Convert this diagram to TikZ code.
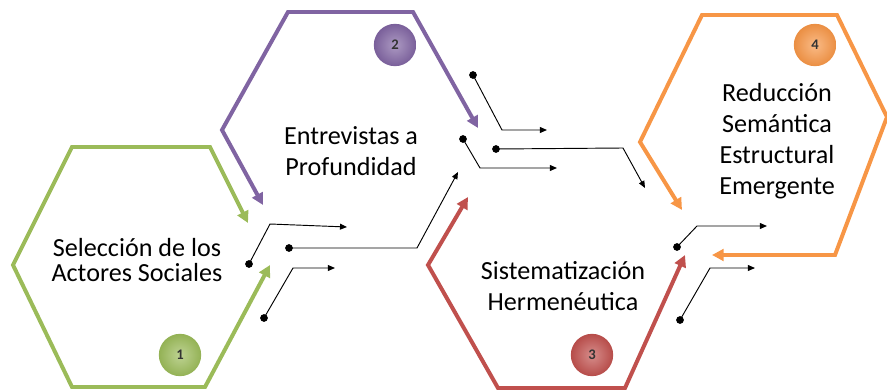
\documentclass[tikz,border=0pt]{standalone}
\usepackage{fontspec}
\setmainfont{Carlito}
\usetikzlibrary{arrows.meta}

\definecolor{hexgreen}{RGB}{155,187,89}
\definecolor{hexpurple}{RGB}{128,100,162}
\definecolor{hexred}{RGB}{192,80,77}
\definecolor{hexorange}{RGB}{247,150,70}

\begin{document}
\begin{tikzpicture}[x=0.03cm, y=-0.03cm,
  hexline/.style={line width=3.4pt,
    {Triangle[length=10pt,width=10pt]}-{Triangle[length=10pt,width=10pt]}},
  link/.style={line width=0.8pt, -{Triangle[length=6pt,width=5pt]}},
  stepball/.style={circle, minimum size=1.27cm, inner sep=0pt, shading=radial,
    inner color=#1!65!white, outer color=#1!95!black,
    text=black!80, font=\fontsize{12.5}{13}\selectfont\bfseries},
  phase/.style={align=center, font=\fontsize{22.3}{#1}\selectfont},
  phase/.default=26.4pt]
  \useasboundingbox (0,0) rectangle (887,391);

  % Hexagons
  \draw[hexline, hexgreen] (248,223) -- (210,147) -- (72,147) -- (13,265) -- (72,387) -- (205,387) -- (270,265);
  \draw[hexline, hexpurple] (478,128) -- (413,12) -- (288,12) -- (222,130) -- (263,205);
  \draw[hexline, hexred] (468,197) -- (428,265) -- (498,388) -- (625,388) -- (685,255);
  \draw[hexline, hexorange] (682,210) -- (640,142) -- (702,15) -- (837,15) -- (887,117) -- (835,255) -- (712,255);

  % Links between the steps
  \foreach \xa/\ya/\xb/\yb/\xc/\yc in {249/264/270/224/347/227, 289/248/417/248/458/172,
      264/318/293/268/335/268, 473/75/502/130/547/130, 463/139/480/168/557/168,
      496/149/623/148/645/188, 677/247/697/226/767/226, 680/320/710/268/755/268}
  {
    \fill (\xa,\ya) circle[radius=3.3pt];
    \draw[link] (\xa,\ya) -- (\xb,\yb) -- (\xc,\yc);
  }

  % Numbers
  \node[stepball=hexgreen] (n1) at (180,355) {1};
  \node[stepball=hexpurple] (n2) at (395,45) {2};
  \node[stepball=hexred] (n3) at (592,355) {3};
  \node[stepball=hexorange] (n4) at (815,45) {4};

  % Labels
  \node[phase=21.3pt] (sel) at (137,260) {Selección de los\\Actores Sociales};
  \node[phase=27pt] (ent) at (351,151) {Entrevistas a\\Profundidad};
  \node[phase] (sis) at (563,286) {Sistematización\\Hermenéutica};
  \node[phase] (red) at (777,141) {Reducción\\Semántica\\Estructural\\Emergente};
\end{tikzpicture}
\end{document}
